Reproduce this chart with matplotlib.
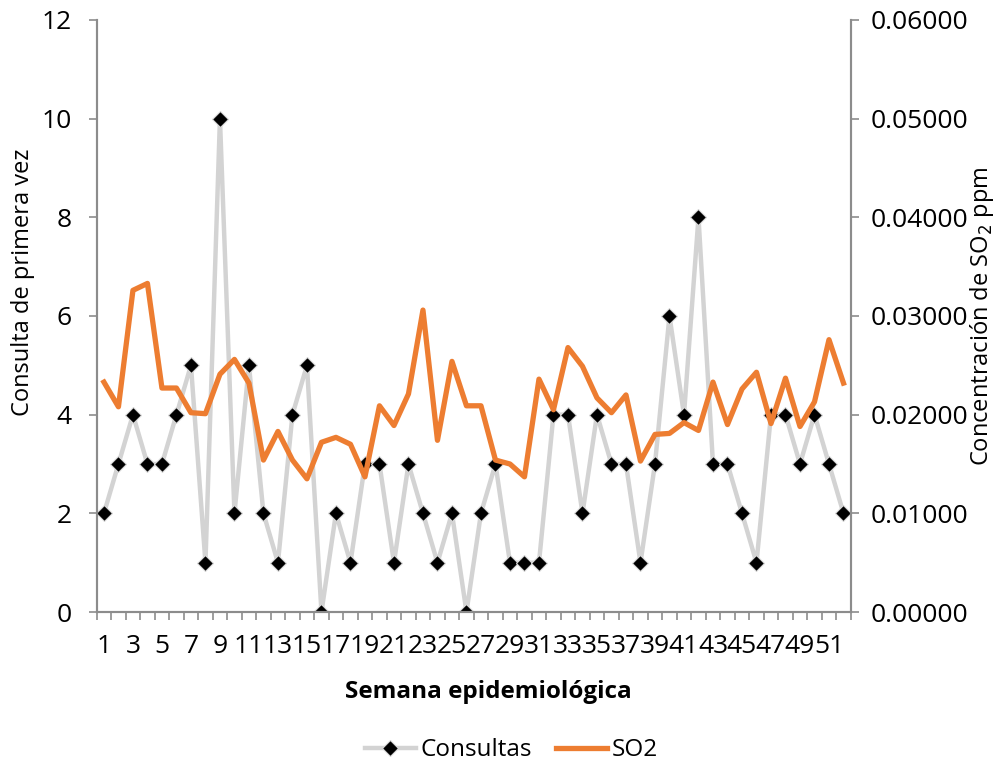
import numpy as np
import matplotlib
matplotlib.use("Agg")
import matplotlib.pyplot as plt
from matplotlib.ticker import FixedLocator, FormatStrFormatter

plt.rcParams['font.family'] = ['Open Sans', 'DejaVu Sans']

# weekly data
semanas = list(range(1, 53))
consultas = [2, 3, 4, 3, 3, 4, 5, 1, 10, 2, 5, 2, 1, 4, 5, 0, 2, 1, 3, 3,
             1, 3, 2, 1, 2, 0, 2, 3, 1, 1, 1, 4, 4, 2, 4, 3, 3, 1, 3, 6,
             4, 8, 3, 3, 2, 1, 4, 4, 3, 4, 3, 2]
so2 = [0.0233, 0.0208, 0.0326, 0.0333, 0.0227, 0.0227, 0.0202, 0.0201, 0.0241, 0.0256,
       0.0232, 0.0154, 0.0183, 0.0154, 0.0135, 0.0172, 0.0177, 0.0170, 0.0137, 0.0209,
       0.0189, 0.0221, 0.0306, 0.0174, 0.0254, 0.0209, 0.0209, 0.0154, 0.0150, 0.0137,
       0.0236, 0.0205, 0.0268, 0.0249, 0.0217, 0.0202, 0.0220, 0.0153, 0.0180, 0.0181,
       0.0192, 0.0184, 0.0233, 0.0190, 0.0226, 0.0243, 0.0191, 0.0237, 0.0188, 0.0213,
       0.0276, 0.0232]

axis_col = '#8c8c8c'
fs = 19

fig = plt.figure(figsize=(10.03, 7.71), dpi=100)
ax = fig.add_axes([0.0964, 0.2062, 0.7518, 0.7679])
ax2 = ax.twinx()

ax.plot(semanas, consultas, color='#d3d3d3', lw=3.2, marker='D', markersize=8,
        markerfacecolor='black', markeredgecolor='#d9d9d9', markeredgewidth=0.8,
        label='Consultas')
ax2.plot(semanas, so2, color='#ed7d31', lw=3.8, label='SO2')

ax.set_xlim(0.5, 52.5)
ax.set_ylim(0, 12)
ax2.set_ylim(0, 0.06)
ax.set_yticks(range(0, 13, 2))
ax2.set_yticks(np.arange(0, 0.0601, 0.01))
ax2.yaxis.set_major_formatter(FormatStrFormatter('%.5f'))

# odd weeks labelled, tick marks between categories
ax.xaxis.set_major_locator(FixedLocator(semanas[::2]))
ax.set_xticklabels([str(s) for s in semanas[::2]])
ax.xaxis.set_minor_locator(FixedLocator(np.arange(0.5, 53, 1)))
ax.tick_params(axis='x', which='major', length=0, labelsize=fs, pad=16)
ax.tick_params(axis='x', which='minor', length=6, color=axis_col, width=1.2)
ax.tick_params(axis='y', length=6, color=axis_col, width=1.2, labelsize=fs, pad=12)
ax2.tick_params(axis='y', length=6, color=axis_col, width=1.2, labelsize=fs, pad=8)

for a in (ax, ax2):
    a.spines['top'].set_visible(False)
    for side in ('left', 'right', 'bottom'):
        a.spines[side].set_color(axis_col)
        a.spines[side].set_linewidth(1.5)

ax.set_ylabel('Consulta de primera vez', fontsize=17)
ax.yaxis.set_label_coords(-0.082, 0.557)
ax2.set_ylabel('Concentración de SO$_2$ ppm', fontsize=17)
ax2.yaxis.set_label_coords(1.155, 0.5)
ax.set_xlabel('Semana epidemiológica', fontsize=17.5, fontweight='bold')
ax.xaxis.set_label_coords(0.52, -0.115)

h1, l1 = ax.get_legend_handles_labels()
h2, l2 = ax2.get_legend_handles_labels()
fig.legend(h1 + h2, l1 + l2, loc='center', bbox_to_anchor=(0.51, 0.027),
           ncol=2, frameon=False, fontsize=17.5, handlelength=2.1,
           handletextpad=0.2, columnspacing=1.0)

fig.savefig('out.png', dpi=100)
